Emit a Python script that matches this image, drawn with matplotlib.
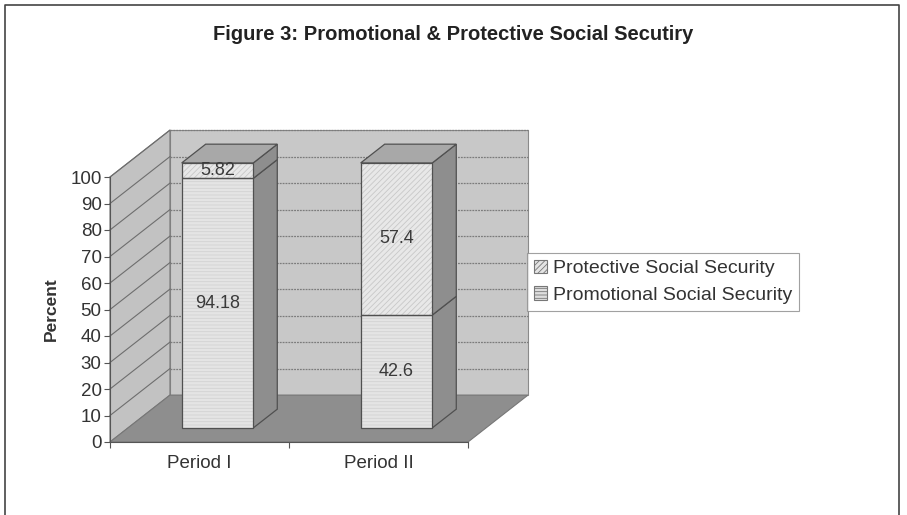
import matplotlib
matplotlib.use("Agg")
import matplotlib.pyplot as plt
from matplotlib.patches import Polygon, Patch
from matplotlib.lines import Line2D

plt.rcParams['font.family'] = ['Liberation Sans', 'DejaVu Sans']
plt.rcParams['hatch.linewidth'] = 0.6

# data
periods = ['Period I', 'Period II']
promotional = [94.18, 42.6]
protective = [5.82, 57.4]
yticks = list(range(0, 101, 10))
title = 'Figure 3: Promotional & Protective Social Secutiry'

# pseudo 3d projection (depth offset in data units)
DX, DY = 0.335, 17.7
z0, z1 = 0.3, 0.7
bw = 0.4

def proj(x, y, z):
    return (x + z * DX, y + z * DY)

fig = plt.figure(figsize=(9.07, 5.15), dpi=100)
ax = fig.add_axes([110 / 907, 1 - 442 / 515, 358 / 907, 265 / 515])
ax.set_xlim(0, 2)
ax.set_ylim(0, 100)
ax.patch.set_visible(False)

ncat = len(periods)
# walls
side = Polygon([(0, 0), (0, 100), proj(0, 100, 1), proj(0, 0, 1)],
               closed=True, fc='#c2c2c2', ec='#777777', lw=0.8, clip_on=False, zorder=1)
back = Polygon([proj(0, 0, 1), proj(ncat, 0, 1), proj(ncat, 100, 1), proj(0, 100, 1)],
               closed=True, fc='#c8c8c8', ec='#8a8a8a', lw=0.8, clip_on=False, zorder=1)
floor = Polygon([(0, 0), (ncat, 0), proj(ncat, 0, 1), proj(0, 0, 1)],
                closed=True, fc='#8e8e8e', ec='#777777', lw=0.8, clip_on=False, zorder=1)
for p in (back, side, floor):
    ax.add_patch(p)

for t in yticks[1:]:
    xa, ya = proj(0, t, 1)
    xb, yb = proj(ncat, t, 1)
    ax.plot([xa, xb], [ya, yb], color='#7c7c7c', lw=0.9, ls=(0, (1.5, 0.8)),
            clip_on=False, zorder=2)
    ax.plot([0, xa], [t, ya], color='#6e6e6e', lw=0.8, clip_on=False, zorder=2)

# bars
def box(xc, y0, y1, face, hatch, hatch_c):
    xl, xr = xc - bw / 2, xc + bw / 2
    sidep = [proj(xr, y0, z0), proj(xr, y0, z1), proj(xr, y1, z1), proj(xr, y1, z0)]
    ax.add_patch(Polygon(sidep, closed=True, fc='#8e8e8e', ec='#505050', lw=0.9,
                         clip_on=False, zorder=3))
    front = [proj(xl, y0, z0), proj(xr, y0, z0), proj(xr, y1, z0), proj(xl, y1, z0)]
    ax.add_patch(Polygon(front, closed=True, fc=face, ec=hatch_c, lw=0, hatch=hatch,
                         clip_on=False, zorder=4))
    ax.add_patch(Polygon(front, closed=True, fill=False, ec='#505050', lw=0.9,
                         clip_on=False, zorder=5))

for i in range(ncat):
    xc = i + 0.5
    low = promotional[i]
    top = low + protective[i]
    box(xc, 0, low, '#e4e4e4', '-----', '#d2d2d2')
    box(xc, low, top, '#e8e8e8', '//////', '#c8c8c8')
    xl, xr = xc - bw / 2, xc + bw / 2
    topf = [proj(xl, top, z0), proj(xr, top, z0), proj(xr, top, z1), proj(xl, top, z1)]
    ax.add_patch(Polygon(topf, closed=True, fc='#a8a8a8', ec='#505050', lw=0.9,
                         clip_on=False, zorder=5))
    for v, yc in ((low, low / 2), (protective[i], low + protective[i] / 2)):
        xt, yt = proj(xc, yc, z0)
        ax.text(xt, yt, f'{v:g}', ha='center', va='center', fontsize=13,
                color='#3a3a3a', zorder=6)

# axes
for s in ('top', 'right'):
    ax.spines[s].set_visible(False)
ax.spines['left'].set_color('#555555')
ax.spines['bottom'].set_color('#555555')
ax.spines['left'].set_zorder(3)
ax.spines['bottom'].set_zorder(3)
ax.set_yticks(yticks)
ax.tick_params(axis='y', length=4, color='#555555', labelsize=13.5, labelcolor='#333333', pad=2)
ax.set_xticks(range(ncat + 1))
ax.set_xticklabels([])
ax.set_xticks([i + 0.5 for i in range(ncat)], minor=True)
ax.set_xticklabels(periods, minor=True)
ax.tick_params(axis='x', which='major', length=4, color='#555555')
ax.tick_params(axis='x', which='minor', length=0, labelsize=13.5, labelcolor='#333333', pad=9)
ax.set_ylabel('Percent', fontsize=12.5, fontweight='bold', color='#333333', labelpad=8)

fig.text(0.5, 1 - 34 / 515, title, ha='center', va='center', fontsize=14.5,
         fontweight='bold', color='#222222')

handles = [Patch(fc='#e4e4e4', ec='#777777', hatch='//////', lw=0.8, label='Protective Social Security'),
           Patch(fc='#dedede', ec='#777777', hatch='-----', lw=0.8, label='Promotional Social Security')]
leg = fig.legend(handles=handles, loc='upper left', bbox_to_anchor=(527 / 907, 1 - 253 / 515),
                 fontsize=14, frameon=True, fancybox=False, edgecolor='#8a8a8a',
                 handlelength=0.7, handleheight=0.7, handletextpad=0.3,
                 borderpad=0.35, labelspacing=0.45, borderaxespad=0)
leg.get_frame().set_linewidth(0.8)
for t in leg.get_texts():
    t.set_color('#333333')

# page frame (left, top, right; open at the bottom)
fx0, fx1, fy1 = 5 / 907, 899 / 907, 1 - 5 / 515
fig.lines.append(Line2D([fx0, fx0, fx1, fx1], [0, fy1, fy1, 0], transform=fig.transFigure,
                        color='#444444', lw=1.2))

fig.savefig('out.png', dpi=100)
